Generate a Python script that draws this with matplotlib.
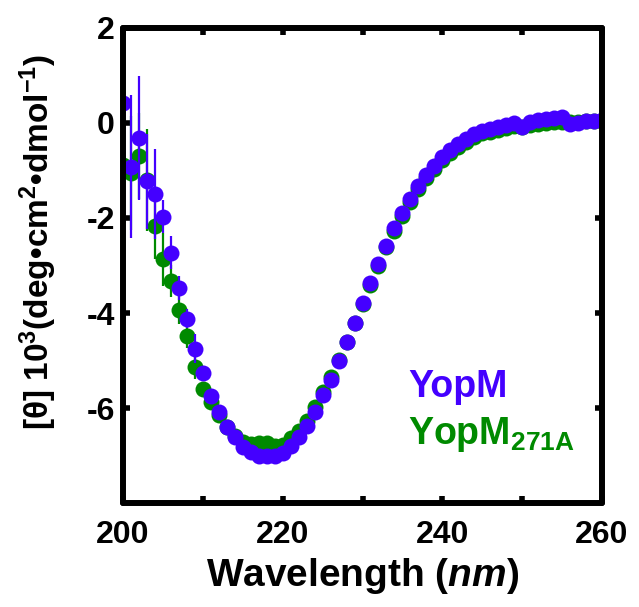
import matplotlib
matplotlib.use("Agg")
import matplotlib.pyplot as plt
import numpy as np

# CD spectra, 200-260 nm in 1 nm steps
wavelength = np.arange(200, 261)

yopm = [0.42, -0.92, -0.32, -1.23, -1.50, -1.97, -2.73, -3.48, -4.12, -4.75,
        -5.26, -5.74, -6.09, -6.39, -6.62, -6.82, -6.93, -7.00, -7.01, -7.00,
        -6.95, -6.80, -6.60, -6.38, -6.08, -5.72, -5.40, -5.02, -4.62, -4.20,
        -3.78, -3.36, -2.96, -2.58, -2.22, -1.90, -1.60, -1.33, -1.10, -0.90,
        -0.72, -0.57, -0.44, -0.34, -0.24, -0.16, -0.12, -0.08, -0.05, 0.00,
        -0.08, 0.02, 0.06, 0.09, 0.10, 0.13, -0.02, 0.00, 0.04, 0.05, 0.06]
yopm_err = [2.4, 1.5, 1.3, 1.0, 0.95, 0.35, 0.35, 0.25, 0.2, 0.3,
            0.15] + [0.08] * 50

yopm271a = [-0.88, -1.05, -0.70, -1.20, -2.17, -2.87, -3.33, -3.94, -4.48, -5.13,
            -5.61, -5.88, -6.15, -6.40, -6.58, -6.72, -6.76, -6.74, -6.74, -6.80,
            -6.78, -6.64, -6.48, -6.28, -5.98, -5.66, -5.34, -4.98, -4.60, -4.20,
            -3.80, -3.40, -3.00, -2.62, -2.27, -1.95, -1.66, -1.39, -1.16, -0.96,
            -0.78, -0.63, -0.50, -0.40, -0.30, -0.22, -0.18, -0.14, -0.10, -0.06,
            -0.08, -0.05, -0.02, 0.00, 0.02, 0.03, 0.02, 0.03, 0.04, 0.05, 0.05]
yopm271a_err = [1.7, 1.2, 0.9, 1.07, 0.7, 0.56, 0.34, 0.3, 0.25, 0.25,
                0.15] + [0.08] * 50

BLUE = "#4400ff"
GREEN = "#008a00"

plt.rcParams.update({
    "font.family": "Liberation Sans",
    "font.weight": "bold",
    "mathtext.fontset": "custom",
    "mathtext.rm": "Liberation Sans:bold",
    "mathtext.bf": "Liberation Sans:bold",
    "mathtext.it": "Liberation Sans:bold:italic",
    "axes.unicode_minus": False,
})

fig = plt.figure(figsize=(6.39, 6.07), dpi=100)
ax = fig.add_axes([0.1925, 0.1713, 0.7496, 0.7826])

ax.errorbar(wavelength, yopm271a, yerr=yopm271a_err, fmt="o", color=GREEN,
            ms=11.5, mec="none", elinewidth=1.6, capsize=0, zorder=2)
ax.errorbar(wavelength, yopm, yerr=yopm_err, fmt="o", color=BLUE,
            ms=11.5, mec="none", elinewidth=1.6, capsize=0, zorder=3)

ax.set_xlim(200, 260)
ax.set_ylim(-8, 2)
ax.set_xticks(np.arange(200, 261, 10))
ax.set_xticklabels(["200", "", "220", "", "240", "", "260"])
ax.set_yticks([2, 0, -2, -4, -6])
ax.tick_params(direction="in", length=5, width=4, top=True, right=True,
               labelsize=23, colors="black")
ax.tick_params(axis="x", pad=12)
ax.tick_params(axis="y", pad=6)
for lab in ax.get_xticklabels() + ax.get_yticklabels():
    lab.set_fontweight("bold")

for sp in ax.spines.values():
    sp.set_linewidth(4.3)
    sp.set_capstyle("round")
    sp.set_zorder(5)

ax.set_xlabel(r"Wavelength ($\mathit{nm}$)", fontsize=28, fontweight="bold")
ax.xaxis.set_label_coords(0.5, -0.112)
ax.set_ylabel(r"[θ] 10$^{3}$(deg•cm$^{2}$•dmol$^{-1}$)", fontsize=24,
              fontweight="bold")
ax.yaxis.set_label_coords(-0.133, 0.549)

ax.text(0.595, 0.245, "YopM", transform=ax.transAxes, color=BLUE,
        fontsize=27, fontweight="bold", va="center", ha="left")
ax.text(0.595, 0.144, r"YopM$_{\mathrm{271A}}$", transform=ax.transAxes,
        color=GREEN, fontsize=27, fontweight="bold", va="center", ha="left")

fig.savefig("out.png", dpi=100)
